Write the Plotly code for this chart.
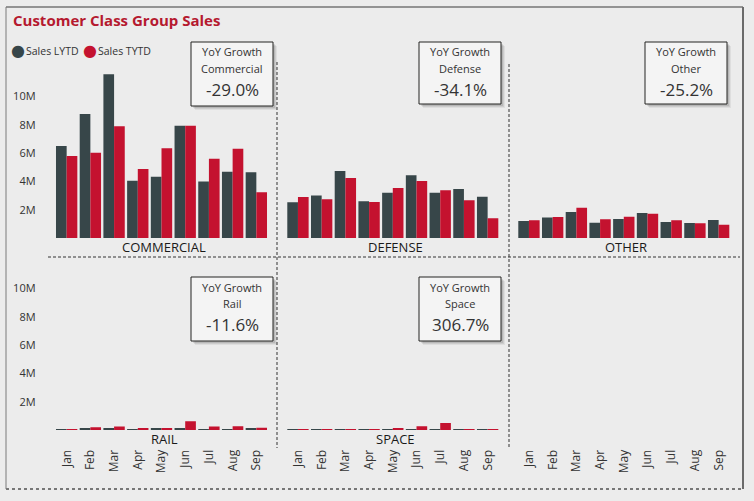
import plotly.graph_objects as go

months = ["Jan", "Feb", "Mar", "Apr", "May", "Jun", "Jul", "Aug", "Sep"]

commercial_lytd = [6.50, 8.76, 11.57, 4.05, 4.33, 7.94, 4.00, 4.69, 4.64]
commercial_tytd = [5.80, 6.03, 7.90, 4.88, 6.34, 7.94, 5.60, 6.31, 3.23]
defense_lytd = [2.52, 3.00, 4.73, 2.59, 3.20, 4.43, 3.20, 3.46, 2.92]
defense_tytd = [2.90, 2.73, 4.24, 2.54, 3.53, 4.03, 3.37, 2.66, 1.39]
other_lytd = [1.20, 1.44, 1.84, 1.08, 1.34, 1.77, 1.13, 1.06, 1.27]
other_tytd = [1.25, 1.48, 2.14, 1.32, 1.50, 1.72, 1.25, 1.04, 0.94]
rail_lytd = [0.06, 0.08, 0.10, 0.05, 0.08, 0.12, 0.05, 0.05, 0.14]
rail_tytd = [0.06, 0.19, 0.24, 0.12, 0.14, 0.61, 0.24, 0.26, 0.16]
space_lytd = [0.06, 0.06, 0.06, 0.06, 0.06, 0.06, 0.06, 0.06, 0.06]
space_tytd = [0.06, 0.06, 0.06, 0.06, 0.14, 0.26, 0.50, 0.06, 0.06]
empty_panel = [None] * 9

panel_names = ["COMMERCIAL", "DEFENSE", "OTHER", "RAIL", "SPACE"]
yoy_labels = ["Commercial", "Defense", "Other", "Rail", "Space"]
yoy_values = ["-29.0%", "-34.1%", "-25.2%", "-11.6%", "306.7%"]
ytick_vals = [2, 4, 6, 8, 10]
ytick_text = ["2M", "4M", "6M", "8M", "10M"]
legend_names = ["Sales LYTD", "Sales TYTD"]

C_LY = "#374649"
C_TY = "#C4122F"
TXT = "#333333"
FONT = "Open Sans"
W, H = 754, 501


def px(x):
    return x / W


def py(y):
    return 1 - y / H


fig = go.Figure()

series = [
    (commercial_lytd, commercial_tytd),
    (defense_lytd, defense_tytd),
    (other_lytd, other_tytd),
    (rail_lytd, rail_tytd),
    (space_lytd, space_tytd),
    (empty_panel, empty_panel),
]

for i, (ly, ty) in enumerate(series):
    ax = "" if i == 0 else str(i + 1)
    fig.add_trace(go.Bar(x=months, y=ly, name=legend_names[0], marker_color=C_LY,
                         marker_line_width=0, xaxis="x" + ax, yaxis="y" + ax,
                         showlegend=False))
    fig.add_trace(go.Bar(x=months, y=ty, name=legend_names[1], marker_color=C_TY,
                         marker_line_width=0, xaxis="x" + ax, yaxis="y" + ax,
                         showlegend=False))

col_x = [(54.8, 268.2), (286.1, 499.5), (517.1, 730.5)]
row_y = [(60, 238), (252, 430)]
yr = (238 - 60) / 14.15

layout = dict(
    width=W, height=H, autosize=False,
    margin=dict(l=0, r=0, t=0, b=0),
    paper_bgcolor="#ececec", plot_bgcolor="rgba(0,0,0,0)",
    barmode="group", bargap=0.1, bargroupgap=0,
    font=dict(family=FONT, color=TXT, size=11),
)

for i in range(6):
    r, c = divmod(i, 3)
    ax = "" if i == 0 else str(i + 1)
    x0, x1 = col_x[c]
    y0, y1 = row_y[r]
    layout["xaxis" + ax] = dict(
        domain=[px(x0), px(x1)], type="category", categoryarray=months,
        categoryorder="array", range=[-0.5, 8.5], showgrid=False, zeroline=False,
        showline=False, showticklabels=(r == 1), tickangle=-90,
        ticks="outside" if r == 1 else "", ticklen=14, tickcolor="rgba(0,0,0,0)",
        tickfont=dict(size=12, color=TXT, family=FONT),
        anchor="y" + ax, fixedrange=True,
    )
    layout["yaxis" + ax] = dict(
        domain=[py(y1), py(y0)], range=[0, yr], showgrid=False, zeroline=False,
        showline=False, showticklabels=(c == 0), tickvals=ytick_vals,
        ticktext=ytick_text, ticks="outside" if c == 0 else "", ticklen=16,
        tickcolor="rgba(0,0,0,0)", tickfont=dict(size=11, color=TXT, family=FONT),
        anchor="x" + ax, fixedrange=True,
    )

fig.update_layout(**layout)

shapes = []
ann = []

# frame
shapes.append(dict(type="line", xref="paper", yref="paper", x0=px(6), x1=px(743),
                   y0=py(7), y1=py(7), line=dict(color="#3a3a3a", width=1)))
shapes.append(dict(type="line", xref="paper", yref="paper", x0=px(6), x1=px(6),
                   y0=py(7), y1=py(489), line=dict(color="#7a7a7a", width=1)))
shapes.append(dict(type="line", xref="paper", yref="paper", x0=px(743), x1=px(743),
                   y0=py(7), y1=py(489), line=dict(color="#6a6a6a", width=2)))
shapes.append(dict(type="line", xref="paper", yref="paper", x0=px(6), x1=px(743),
                   y0=py(489), y1=py(489), line=dict(color="#777777", width=2, dash="dot")))

# separators
dash = dict(color="#333333", width=1, dash="3px,2px")
shapes.append(dict(type="line", xref="paper", yref="paper", x0=px(277), x1=px(277),
                   y0=py(62), y1=py(448), line=dash))
shapes.append(dict(type="line", xref="paper", yref="paper", x0=px(509), x1=px(509),
                   y0=py(64), y1=py(448), line=dash))
shapes.append(dict(type="line", xref="paper", yref="paper", x0=px(48), x1=px(740),
                   y0=py(257), y1=py(257), line=dash))

# panel titles
title_pos = [(164, 247), (395, 247), (626, 247), (164, 439), (395, 439)]
for name, (tx, ty) in zip(panel_names, title_pos):
    ann.append(dict(text=name, xref="paper", yref="paper", x=px(tx), y=py(ty),
                    xanchor="center", yanchor="middle", showarrow=False,
                    font=dict(size=13, color="#1a1a1a", family=FONT)))

# YoY cards
cards = [(191, 42, 273, 106), (419, 42, 501, 104), (645, 42, 727, 104),
         (191, 277, 273, 341), (419, 277, 501, 341)]
for (cx0, cy0, cx1, cy1), lab, val in zip(cards, yoy_labels, yoy_values):
    for k, a in ((4, 0.06), (3, 0.08), (2, 0.1)):
        shapes.append(dict(type="rect", xref="paper", yref="paper",
                           x0=px(cx0 + k), x1=px(cx1 + k), y0=py(cy0 + k), y1=py(cy1 + k),
                           fillcolor=f"rgba(0,0,0,{a})", line=dict(width=0), layer="above"))
    shapes.append(dict(type="rect", xref="paper", yref="paper", x0=px(cx0), x1=px(cx1),
                       y0=py(cy0), y1=py(cy1), fillcolor="#f4f4f4",
                       line=dict(color="#252423", width=1), layer="above"))
    mx = (cx0 + cx1) / 2
    ann.append(dict(text="YoY Growth", xref="paper", yref="paper", x=px(mx), y=py(cy0 + 10),
                    xanchor="center", yanchor="middle", showarrow=False,
                    font=dict(size=11, color=TXT, family=FONT)))
    ann.append(dict(text=lab, xref="paper", yref="paper", x=px(mx), y=py(cy0 + 26),
                    xanchor="center", yanchor="middle", showarrow=False,
                    font=dict(size=11, color=TXT, family=FONT)))
    ann.append(dict(text=val, xref="paper", yref="paper", x=px(mx), y=py(cy0 + 47),
                    xanchor="center", yanchor="middle", showarrow=False,
                    font=dict(size=17, color=TXT, family=FONT)))

# title
ann.append(dict(text="<b>Customer Class Group Sales</b>", xref="paper", yref="paper",
                x=px(11), y=py(20), xanchor="left", yanchor="middle", showarrow=False,
                font=dict(size=15, color="#B5192F", family=FONT)))
# legend
for name, col, cx, tx in ((legend_names[0], C_LY, 18, 24), (legend_names[1], C_TY, 90, 96)):
    ann.append(dict(text="●", xref="paper", yref="paper", x=px(cx), y=py(50.5),
                    xanchor="center", yanchor="middle", showarrow=False,
                    font=dict(size=16, color=col, family="DejaVu Sans")))
    ann.append(dict(text=name, xref="paper", yref="paper", x=px(tx), y=py(51),
                    xanchor="left", yanchor="middle", showarrow=False,
                    font=dict(size=10.5, color=TXT, family=FONT)))

fig.update_layout(shapes=shapes, annotations=ann)
fig.write_html("out.html", config={"displayModeBar": False},
               post_script="document.body.style.margin='0';document.body.style.overflow='hidden';")
